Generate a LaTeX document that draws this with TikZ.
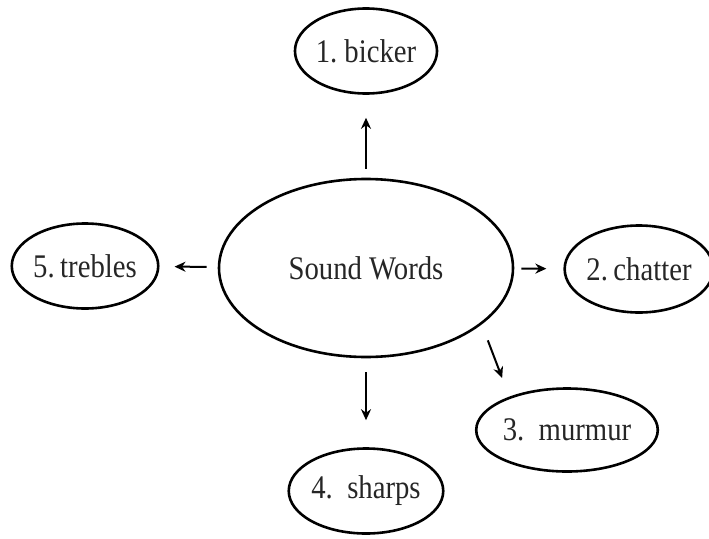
\documentclass[tikz,border=0pt]{standalone}
\usepackage{fontspec}
\setmainfont{Liberation Serif}[FakeStretch=0.87]
\usetikzlibrary{shapes.geometric,arrows.meta}
\begin{document}
\begin{tikzpicture}[x=1pt,y=-1pt,
  word/.style={ellipse, draw, line width=2.6pt, inner sep=0pt, minimum width=141pt, minimum height=85pt, text=black!85, font=\fontsize{33}{36}\selectfont},
  arr/.style={-{Stealth[length=11pt,width=10pt]}, line width=2pt}]
\useasboundingbox (0,0) rectangle (709,538);
\node [word, minimum width=294pt, minimum height=178pt] (sound) at (366,268) {Sound Words};
\node [word] (bicker) at (366,51) {1.\ bicker};
\node [word, minimum width=133pt, minimum height=87pt] (chatter) at (639,269) {2.\,chatter};
\node [word, minimum width=138pt, minimum height=83pt] (murmur) at (567,430) {3.\ \ murmur};
\node [word, minimum width=140pt] (sharps) at (366,491) {4.\ \ sharps};
\node [word] (trebles) at (85,266) {5.\,trebles};
\draw [arr, shorten <=9pt, shorten >=23pt] (sound) -- (bicker);
\draw [arr, shorten <=7pt, shorten >=17pt] (sound) -- (chatter);
\draw [arr, shorten <=17pt, shorten >=20pt] (sound.-26) -- (murmur.150);
\draw [arr, shorten <=14pt, shorten >=27pt] (sound) -- (sharps);
\draw [arr, shorten <=11pt, shorten >=15pt] (sound) -- (trebles);
\end{tikzpicture}
\end{document}
